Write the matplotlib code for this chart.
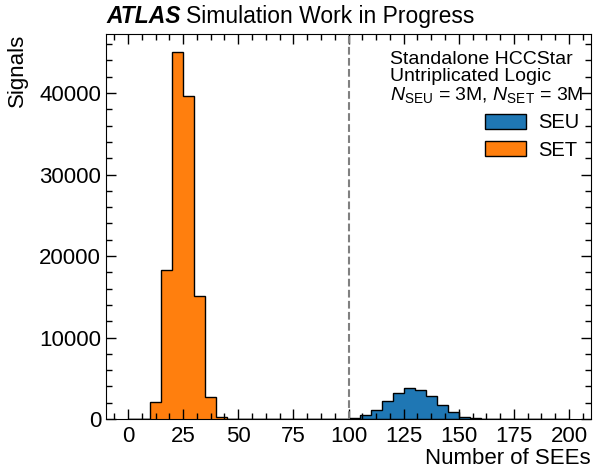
import numpy as np
import matplotlib.pyplot as plt
from matplotlib.ticker import MultipleLocator
from matplotlib.patches import Patch

plt.rcParams['font.family'] = ['Liberation Sans', 'DejaVu Sans']
plt.rcParams['mathtext.fontset'] = 'custom'
plt.rcParams['mathtext.rm'] = 'Liberation Sans'
plt.rcParams['mathtext.it'] = 'Liberation Sans:italic'

# bin edges (width 5) from 0 to 200
edges = np.arange(0, 205, 5)

# SET counts per bin (bins 10-15 ... 45-50)
set_start = 10
set_counts = [2100, 18300, 45000, 39700, 15100, 2700, 250, 30]

# SEU counts per bin (bins 100-105 ... 160-165)
seu_start = 100
seu_counts = [150, 450, 1150, 2250, 3150, 3850, 3600, 2780, 1760, 820, 250, 70, 15]

set_hist = np.zeros(len(edges) - 1)
i0 = list(edges).index(set_start)
set_hist[i0:i0 + len(set_counts)] = set_counts
seu_hist = np.zeros(len(edges) - 1)
i0 = list(edges).index(seu_start)
seu_hist[i0:i0 + len(seu_counts)] = seu_counts

fig = plt.figure(figsize=(5.93, 4.69), dpi=100)
ax = fig.add_axes([106 / 593, 50 / 469, 485 / 593, 385 / 469])

ax.stairs(seu_hist, edges, fill=True, color='#1f77b4')
ax.stairs(seu_hist, edges, color='black', linewidth=1.0)
ax.stairs(set_hist, edges, fill=True, color='#ff7f0e')
ax.stairs(set_hist, edges, color='black', linewidth=1.0)
ax.axvline(100, color='grey', linestyle='--', linewidth=1.5)

ax.set_xlim(-10, 210)
ax.set_ylim(0, 1.05 * max(set_counts))
ax.xaxis.set_major_locator(MultipleLocator(25))
ax.xaxis.set_minor_locator(MultipleLocator(6.25))
ax.yaxis.set_major_locator(MultipleLocator(10000))
ax.yaxis.set_minor_locator(MultipleLocator(2000))
ax.tick_params(which='both', direction='in', top=True, right=True, labelsize=16)
ax.tick_params(which='major', length=7, width=1)
ax.tick_params(which='minor', length=4, width=1)
ax.tick_params(axis='x', pad=5)

ax.set_xlabel('Number of SEEs', fontsize=16, loc='right', labelpad=1)
ax.set_ylabel('Signals', fontsize=16, loc='top', labelpad=8)

t1 = ax.text(0, 1.015, 'ATLAS', transform=ax.transAxes, fontsize=16.5,
             fontweight='bold', style='italic', ha='left', va='bottom')
fig.canvas.draw()
bb = t1.get_window_extent().transformed(ax.transAxes.inverted())
ax.text(bb.x1 + 0.012, 1.015, 'Simulation Work in Progress', transform=ax.transAxes,
        fontsize=16.5, ha='left', va='bottom')

ax.text(0.985, 0.955, 'Standalone HCCStar\nUntriplicated Logic\n'
        r'$N_{\mathrm{SEU}}$ = 3M, $N_{\mathrm{SET}}$ = 3M',
        transform=ax.transAxes, fontsize=14, ha='right', va='top',
        multialignment='left', linespacing=0.98)

handles = [Patch(facecolor='#1f77b4', edgecolor='black', label='SEU'),
           Patch(facecolor='#ff7f0e', edgecolor='black', label='SET')]
ax.legend(handles=handles, loc='upper right', bbox_to_anchor=(1.0, 0.825),
          frameon=False, fontsize=14.5, handlelength=2.0, handleheight=0.75,
          handletextpad=0.6, labelspacing=0.4, borderaxespad=0.2)

fig.savefig('out.png', dpi=100)
